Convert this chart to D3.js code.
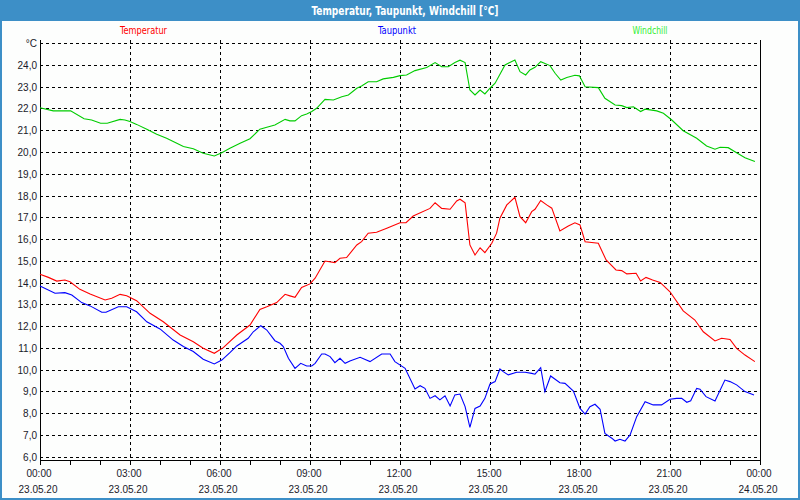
<!DOCTYPE html>
<html><head><meta charset="utf-8">
<script src="https://cdn.jsdelivr.net/npm/d3@7"></script>
<style>body{margin:0;background:#fff}svg{display:block}</style>
</head><body>
<svg id="c" width="800" height="500"></svg>
<script>
const title = "Temperatur, Taupunkt, Windchill [°C]";
const seriesNames = ["Temperatur", "Taupunkt", "Windchill"];
const seriesColors = ["#ff0000", "#0000ff", "#00cc00"];
const legendColors = ["#ff0000", "#0000ff", "#33ee33"];
const yTicks = [6,7,8,9,10,11,12,13,14,15,16,17,18,19,20,21,22,23,24,25];
const xTickHours = [0,3,6,9,12,15,18,21,24];
const xTimeLabels = ["00:00","03:00","06:00","09:00","12:00","15:00","18:00","21:00","00:00"];
const xDateLabels = ["23.05.20","23.05.20","23.05.20","23.05.20","23.05.20","23.05.20","23.05.20","23.05.20","24.05.20"];

const tempHours = [0,0.28,0.56,0.83,1.0,1.33,1.67,2.17,2.39,2.67,2.89,3.22,3.67,4.11,4.67,5.11,5.44,5.81,6.11,6.56,7.0,7.33,7.56,7.89,8.17,8.33,8.5,8.72,9.0,9.17,9.5,9.83,10.0,10.22,10.56,10.72,10.94,11.22,11.56,12.0,12.2,12.44,13.0,13.17,13.39,13.67,13.89,14.0,14.17,14.33,14.5,14.67,14.83,15.06,15.22,15.33,15.56,15.83,16.0,16.19,16.39,16.5,16.69,16.89,17.06,17.33,17.61,17.83,18.0,18.17,18.61,18.87,19.2,19.39,19.56,19.87,20.02,20.2,20.42,20.67,21.0,21.44,21.83,22.11,22.5,22.72,23.0,23.22,23.5,23.83];
const tempValues = [14.38,14.24,14.07,14.12,14.04,13.69,13.48,13.2,13.28,13.46,13.4,13.17,12.59,12.2,11.59,11.28,10.98,10.75,11.01,11.59,12.05,12.77,12.89,13.08,13.46,13.39,13.32,13.78,13.94,14.2,14.99,14.92,15.12,15.15,15.73,15.88,16.27,16.31,16.5,16.75,16.75,17.06,17.41,17.67,17.41,17.37,17.75,17.83,17.67,15.73,15.27,15.6,15.38,15.81,16.27,16.96,17.57,17.92,17.03,16.75,17.26,17.37,17.77,17.57,17.42,16.37,16.6,16.75,16.65,15.88,15.81,15.04,14.58,14.55,14.4,14.43,14.07,14.24,14.12,14.01,13.58,12.7,12.28,11.74,11.32,11.44,11.39,10.98,10.67,10.37];

const dewHours = [0,0.5,0.83,1.06,1.39,1.67,2.06,2.2,2.61,2.89,3.22,3.56,4.0,4.44,4.78,5.11,5.44,5.81,6.06,6.33,6.56,6.94,7.11,7.36,7.56,7.83,8.0,8.11,8.28,8.5,8.69,8.89,9.06,9.17,9.39,9.5,9.67,9.83,10.0,10.17,10.33,10.67,11.0,11.39,11.67,11.83,12.17,12.5,12.67,12.83,13.0,13.17,13.33,13.5,13.67,13.83,14.0,14.17,14.33,14.5,14.67,14.83,15.0,15.17,15.33,15.44,15.61,15.89,16.17,16.39,16.5,16.69,16.83,17.02,17.33,17.5,17.78,18.0,18.17,18.33,18.5,18.67,18.83,19.06,19.17,19.33,19.5,19.67,19.89,20.17,20.44,20.72,21.0,21.22,21.39,21.56,21.69,21.89,22.0,22.2,22.5,22.83,23.0,23.22,23.5,23.8];
const dewValues = [13.84,13.51,13.54,13.43,13.08,12.93,12.64,12.64,12.89,12.89,12.66,12.2,11.87,11.36,11.06,10.83,10.48,10.26,10.44,10.78,11.09,11.44,11.74,12.02,11.82,11.33,11.21,11.06,10.52,10.06,10.29,10.17,10.17,10.29,10.72,10.72,10.6,10.32,10.52,10.29,10.4,10.57,10.37,10.72,10.72,10.37,10.06,9.11,9.26,9.14,8.68,8.8,8.61,8.8,8.33,8.84,8.88,8.3,7.35,8.22,8.33,8.68,9.34,9.45,10.03,9.91,9.76,9.88,9.88,9.83,9.79,10.09,8.99,9.71,9.4,9.37,9.02,8.22,7.96,8.3,8.41,8.18,7.07,6.85,6.72,6.8,6.72,7.0,7.84,8.53,8.38,8.38,8.64,8.68,8.68,8.5,8.57,9.14,9.1,8.76,8.56,9.52,9.45,9.3,8.99,8.84];

const chillHours = [0,0.44,1.02,1.47,1.72,2.02,2.24,2.67,2.83,3.0,3.22,3.56,3.89,4.22,4.56,4.78,5.11,5.44,5.81,6.06,6.33,6.67,7.0,7.33,7.56,7.83,8.17,8.33,8.5,8.72,8.89,9.06,9.22,9.5,9.78,10.06,10.28,10.56,10.72,10.94,11.22,11.44,11.78,12.0,12.22,12.5,12.89,13.17,13.39,13.61,13.83,14.0,14.17,14.33,14.5,14.67,14.83,15.0,15.17,15.5,15.83,16.0,16.19,16.33,16.5,16.69,17.0,17.17,17.36,17.56,17.83,17.98,18.17,18.61,18.83,19.17,19.39,19.56,19.78,20.02,20.17,20.56,20.78,21.06,21.44,21.89,22.22,22.5,22.67,22.94,23.22,23.5,23.83];
const chillValues = [22.03,21.89,21.89,21.53,21.47,21.32,21.32,21.5,21.47,21.4,21.27,21.05,20.82,20.63,20.4,20.25,20.15,19.94,19.82,19.97,20.17,20.4,20.61,21.05,21.14,21.24,21.5,21.43,21.43,21.67,21.75,21.86,22.01,22.42,22.39,22.54,22.62,22.93,23.03,23.23,23.23,23.36,23.43,23.51,23.54,23.74,23.88,24.11,23.92,23.92,24.11,24.22,24.11,22.85,22.62,22.85,22.67,22.93,23.16,24.0,24.23,23.69,23.54,23.77,23.89,24.15,23.97,23.62,23.31,23.42,23.53,23.5,23.0,22.96,22.47,22.16,22.13,22.04,22.08,21.86,21.97,21.89,21.78,21.47,20.98,20.63,20.28,20.13,20.22,20.2,19.97,19.74,19.56];

const svg = d3.select("#c");
const W = 800, H = 500;
const x = d3.scaleLinear().domain([0, 24]).range([40, 760]);
const y = d3.scaleLinear().domain([6, 25]).range([456.7, 43.2]);
const bottomY = 460;
const topY = 40;
const narrow = "'Liberation Sans Narrow','DejaVu Sans Condensed',sans-serif";

// frame
svg.append("rect").attr("x",0).attr("y",0).attr("width",W).attr("height",H).attr("fill","#fdfefd");
svg.append("rect").attr("x",0).attr("y",0).attr("width",W).attr("height",21).attr("fill","#3d8fc7");
svg.append("rect").attr("x",1).attr("y",1).attr("width",W-2).attr("height",H-2)
  .attr("fill","none").attr("stroke","#3d8fc7").attr("stroke-width",2);
svg.append("text").attr("x",405).attr("y",15).attr("text-anchor","middle")
  .attr("fill","#fff").attr("font-family",narrow)
  .attr("font-weight","bold").attr("font-size",12.5)
  .attr("textLength",187).attr("lengthAdjust","spacingAndGlyphs").text(title);

// legend
const legendX = [143.5, 397, 650];
const legendW = [47, 38, 35];
seriesNames.forEach((n,i)=>{
  svg.append("text").attr("x",legendX[i]).attr("y",34).attr("text-anchor","middle")
    .attr("fill",legendColors[i]).attr("font-family",narrow)
    .attr("font-size",11).attr("textLength",legendW[i]).attr("lengthAdjust","spacingAndGlyphs").text(n);
});

// horizontal grid
const g = svg.append("g").attr("shape-rendering","crispEdges");
g.selectAll("line.h").data(yTicks).join("line")
  .attr("x1",40).attr("x2",760)
  .attr("y1",d=>Math.round(y(d))+0.5).attr("y2",d=>Math.round(y(d))+0.5)
  .attr("stroke","#000").attr("stroke-dasharray","3,3");
// vertical grid
g.selectAll("line.v").data(xTickHours.filter(h=>h>0&&h<24)).join("line")
  .attr("x1",d=>Math.round(x(d))+0.5).attr("x2",d=>Math.round(x(d))+0.5)
  .attr("y1",topY).attr("y2",bottomY)
  .attr("stroke","#000").attr("stroke-dasharray","3,3");

// y labels
const fontTick = "'Liberation Sans',Arial,sans-serif";
svg.append("g").selectAll("text").data(yTicks).join("text")
  .attr("x",37).attr("y",d=>y(d)+4).attr("text-anchor","end")
  .attr("font-family",fontTick).attr("font-size",10).attr("fill","#1a1a2a")
  .text(d=> d===25 ? "°C" : d.toFixed(1).replace(".",","));

// axes lines
const ax = svg.append("g").attr("shape-rendering","crispEdges").attr("stroke","#000");
ax.append("line").attr("x1",40.5).attr("x2",40.5).attr("y1",topY).attr("y2",bottomY+1);
ax.append("line").attr("x1",760.5).attr("x2",760.5).attr("y1",topY).attr("y2",bottomY+1);
ax.append("line").attr("x1",40).attr("x2",761).attr("y1",bottomY+0.5).attr("y2",bottomY+0.5);
ax.selectAll("line.t").data(d3.range(0,25)).join("line")
  .attr("x1",d=>Math.round(x(d))+0.5).attr("x2",d=>Math.round(x(d))+0.5)
  .attr("y1",bottomY).attr("y2",bottomY+5);

// x labels
const xl = svg.append("g").attr("font-family",fontTick).attr("font-size",10).attr("fill","#1a1a2a").attr("text-anchor","middle");
xTickHours.forEach((h,i)=>{
  xl.append("text").attr("x",x(h)-1).attr("y",477).text(xTimeLabels[i]);
  xl.append("text").attr("x",x(h)-2).attr("y",493).text(xDateLabels[i]);
});

// lines
const line = d3.line().x(d=>x(d[0])).y(d=>y(d[1]));
const series = [
  d3.zip(tempHours, tempValues),
  d3.zip(dewHours, dewValues),
  d3.zip(chillHours, chillValues)
];
series.forEach((s,i)=>{
  svg.append("path").datum(s).attr("d",line).attr("fill","none")
    .attr("stroke",seriesColors[i]).attr("stroke-width",1.1);
});
</script>
</body></html>
